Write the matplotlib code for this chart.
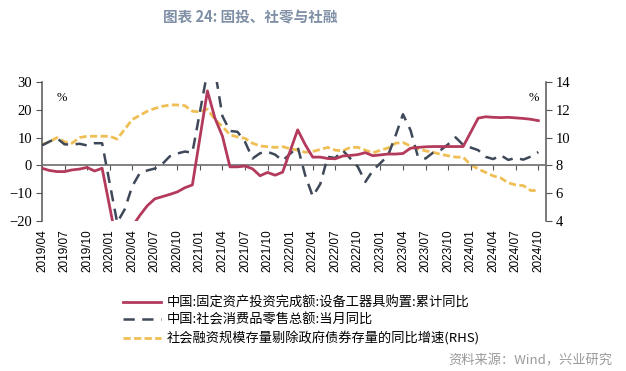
import numpy as np
import matplotlib
matplotlib.use("Agg")
import matplotlib.pyplot as plt
import matplotlib.transforms as mtransforms

plt.rcParams["font.family"] = ["Noto Sans CJK SC", "DejaVu Sans"]

# ---------------------------------------------------------------------------
# data (monthly, 2019/04 .. 2024/10); None = no January print
# ---------------------------------------------------------------------------
months = [f"{y}/{m:02d}" for y in range(2019, 2025) for m in range(1, 13)]
months = months[3:months.index("2024/10") + 1]

equip_ytd = [
    -1.0, -1.8, -2.2, -2.2, -1.6, -1.3, -0.7, -2.0, -1.0,            # 2019/04-12
    None, -28.5, -27.5, -22.0, -18.0, -14.5, -12.0, -11.2, -10.4, -9.5, -8.0, -7.0,
    None, 26.8, 17.0, 10.5, -0.5, -0.5, -0.2, -1.2, -3.7, -2.5, -3.5, -2.4,
    None, 12.8, 7.5, 3.0, 3.0, 2.5, 2.4, 3.4, 3.6, 3.9, 4.6, 3.5,
    None, 4.1, 4.1, 4.3, 6.2, 6.5, 6.7, 6.8, 6.8, 6.8, 6.8, 6.8,
    None, 17.0, 17.5, 17.3, 17.2, 17.3, 17.1, 16.9, 16.6, 16.1,
]
retail_yoy = [
    7.2, 8.6, 9.8, 7.6, 7.5, 7.8, 7.2, 8.0, 8.0,
    None, -20.5, -15.8, -7.5, -2.8, -1.8, -1.1, 0.5, 3.3, 4.3, 5.0, 4.6,
    None, 33.8, 34.2, 17.7, 12.4, 12.1, 8.5, 2.5, 4.4, 4.9, 3.9, 1.7,
    None, 6.7, -3.5, -11.1, -6.7, 3.1, 2.7, 5.4, 2.5, -0.5, -5.9, -1.8,
    None, 3.5, 10.6, 18.4, 12.7, 3.1, 2.5, 4.6, 5.5, 7.6, 10.1, 7.4,
    None, 5.5, 3.1, 2.3, 3.7, 2.0, 2.7, 2.1, 3.2, 4.8,
]
tsf_ex_gov = [
    9.5, 9.7, 10.0, 9.7, 9.6, 10.0, 10.1, 10.1, 10.1,
    10.1, 9.9, 10.6, 11.3, 11.6, 11.9, 12.1, 12.25, 12.35, 12.35, 12.3, 11.9,
    11.85, 12.05, 11.3, 10.8, 10.2, 10.05, 9.95, 9.6, 9.4, 9.35, 9.3, 9.35,
    9.2, 9.1, 8.95, 9.0, 9.15, 9.3, 9.1, 9.05, 9.3, 9.3, 9.1, 8.9,
    9.1, 9.25, 9.6, 9.65, 9.4, 9.2, 9.05, 8.95, 8.8, 8.7, 8.6, 8.6,
    8.05, 7.75, 7.5, 7.25, 7.1, 6.75, 6.6, 6.55, 6.2, 6.2,
]

labels = [
    "中国:固定资产投资完成额:设备工器具购置:累计同比",
    "中国:社会消费品零售总额:当月同比",
    "社会融资规模存量剔除政府债券存量的同比增速(RHS)",
]

RED = "#b43a5c"
SLATE = "#3e4859"
GOLD = "#efbf55"


def valid(series):
    idx = np.array([i for i, v in enumerate(series) if v is not None])
    val = np.array([v for v in series if v is not None], dtype=float)
    return idx, val


x_all = np.arange(len(months))

fig = plt.figure(figsize=(6.26, 3.71), dpi=100)
ax = fig.add_axes([0.067, 0.404, 0.805, 0.375])
ax2 = ax.twinx()

xi, yv = valid(equip_ytd)
l1, = ax.plot(xi, yv, color=RED, lw=2.0, zorder=4)
xi, yv = valid(retail_yoy)
l2, = ax.plot(xi, yv, color=SLATE, lw=1.8, dashes=(4.5, 3), zorder=3)
l3, = ax2.plot(x_all, tsf_ex_gov, color=GOLD, lw=2.0, dashes=(2.6, 1.2), zorder=2)

ax.set_xlim(0, len(months))
ax.set_ylim(-20, 30)
ax.set_yticks(np.arange(-20, 31, 10))
ax2.set_ylim(4, 14)
ax2.set_yticks(np.arange(4, 15, 2))

# draw the gold line below the left-axis lines
ax.set_zorder(ax2.get_zorder() + 1)
ax.patch.set_visible(False)

for a in (ax, ax2):
    a.spines["top"].set_visible(False)
    a.spines["bottom"].set_visible(False)
    a.spines["left"].set_color("#555555")
    a.spines["right"].set_color("#555555")
    a.spines["left"].set_linewidth(1.1)
    a.spines["right"].set_linewidth(1.1)
ax.spines["right"].set_visible(False)
ax2.spines["left"].set_visible(False)

# zero line carries the x ticks
ax.spines["bottom"].set_visible(True)
ax.spines["bottom"].set_position(("data", 0))
ax.spines["bottom"].set_color("#777777")
ax.spines["bottom"].set_linewidth(1.3)

tick_idx = x_all[::3]
ax.set_xticks(tick_idx)
ax.tick_params(axis="x", direction="out", length=3.5, color="#555555",
               labelbottom=False)
trans = mtransforms.blended_transform_factory(ax.transData, ax.transAxes)
for i in tick_idx:
    ax.text(i, -0.06, months[i], transform=trans, rotation=90,
            ha="center", va="top", fontsize=8.5, family="Liberation Sans")

ax.tick_params(axis="y", direction="out", length=4, color="#555555",
               labelsize=10.5, pad=3)
ax2.tick_params(axis="y", direction="out", length=4, color="#555555",
                labelsize=10.5, pad=3)
for t in ax.get_yticklabels() + ax2.get_yticklabels():
    t.set_family("Liberation Serif")

ax.text(0.03, 0.86, "%", transform=ax.transAxes, fontsize=9,
        family="Liberation Serif")
ax.text(0.965, 0.86, "%", transform=ax.transAxes, fontsize=9,
        family="Liberation Serif")

fig.text(0.40, 0.955, "图表 24: 固投、社零与社融", ha="center", va="center",
         fontsize=10.5, fontweight="bold", color="#7f8fa5")

fig.legend([l1, l2, l3], labels, loc="upper left",
           bbox_to_anchor=(0.188, 0.216), frameon=False, fontsize=9.5,
           handlelength=2.9, handletextpad=0.4, labelspacing=0.34,
           borderaxespad=0)

fig.text(0.978, 0.027, "资料来源：Wind，兴业研究", ha="right", va="center",
         fontsize=9.5, color="#9a9a9a")

fig.savefig("out.png", dpi=100)
